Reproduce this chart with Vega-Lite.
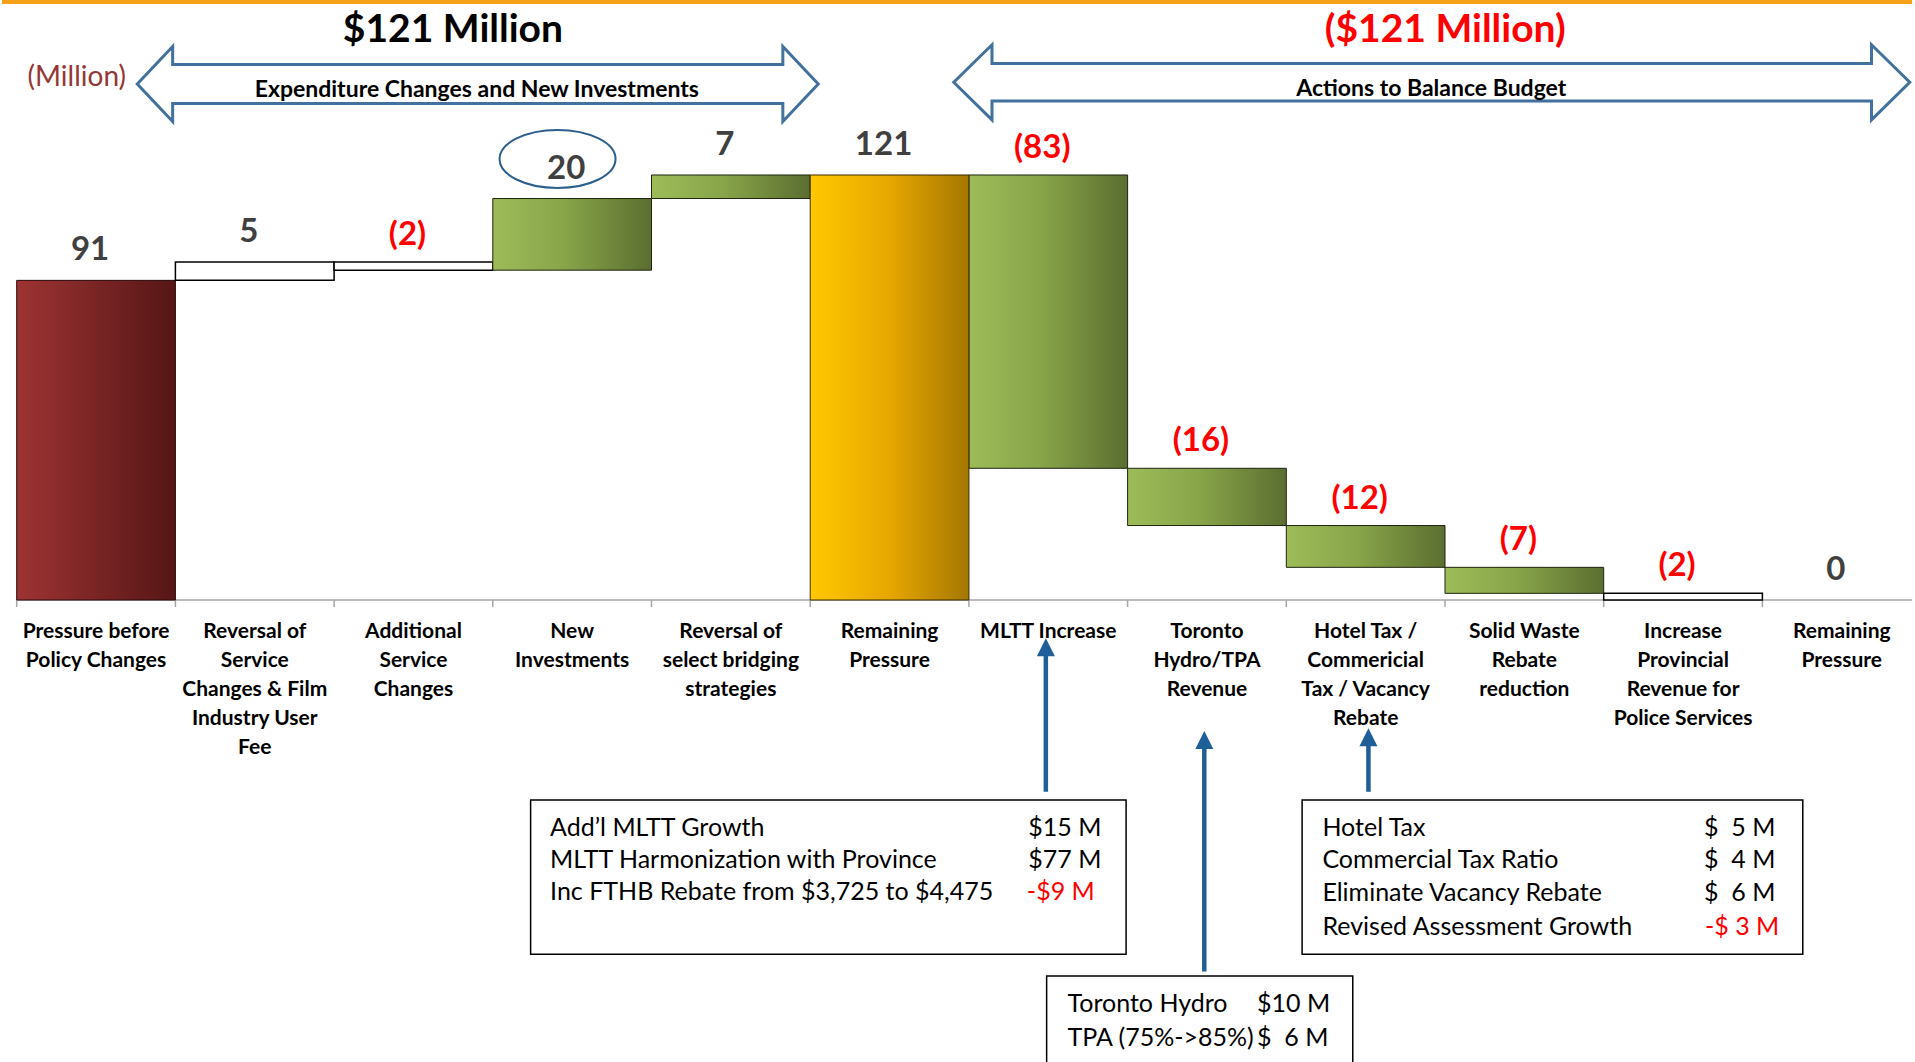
{
  "$schema": "https://vega.github.io/schema/vega-lite/v6.json",
  "width": 1915,
  "height": 1062,
  "autosize": {"type": "fit", "contains": "padding"},
  "padding": 0,
  "background": "white",
  "config": {"view": {"stroke": null}, "font": "Lato"},
  "datasets": {
    "steps": [
      {"cat": "Pressure before Policy Changes", "label": "Pressure before\nPolicy Changes", "start": 0, "end": 91, "type": "pressure", "dir": "up", "text": "91"},
      {"cat": "Reversal of Service Changes & Film Industry User Fee", "label": "Reversal of\nService\nChanges & Film\nIndustry User\nFee", "start": 91, "end": 96.2, "type": "adjustment", "dir": "up", "text": "5"},
      {"cat": "Additional Service Changes", "label": "Additional\nService\nChanges", "start": 96.2, "end": 93.9, "type": "adjustment", "dir": "down", "text": "(2)"},
      {"cat": "New Investments", "label": "New\nInvestments", "start": 93.9, "end": 114.3, "type": "investment", "dir": "up", "text": "20"},
      {"cat": "Reversal of select bridging strategies", "label": "Reversal of\nselect bridging\nstrategies", "start": 114.3, "end": 121, "type": "investment", "dir": "up", "text": "7"},
      {"cat": "Remaining Pressure", "label": "Remaining\nPressure", "start": 0, "end": 121, "type": "subtotal", "dir": "up", "text": "121"},
      {"cat": "MLTT Increase", "label": "MLTT Increase", "start": 121, "end": 37.5, "type": "action", "dir": "down", "text": "(83)"},
      {"cat": "Toronto Hydro/TPA Revenue", "label": "Toronto\nHydro/TPA\nRevenue", "start": 37.5, "end": 21.2, "type": "action", "dir": "down", "text": "(16)"},
      {"cat": "Hotel Tax / Commericial Tax / Vacancy Rebate", "label": "Hotel Tax /\nCommericial\nTax / Vacancy\nRebate", "start": 21.2, "end": 9.3, "type": "action", "dir": "down", "text": "(12)"},
      {"cat": "Solid Waste Rebate reduction", "label": "Solid Waste\nRebate\nreduction", "start": 9.3, "end": 1.9, "type": "action", "dir": "down", "text": "(7)"},
      {"cat": "Increase Provincial Revenue for Police Services", "label": "Increase\nProvincial\nRevenue for\nPolice Services", "start": 1.9, "end": 0, "type": "adjustment", "dir": "down", "text": "(2)"},
      {"cat": "Remaining Pressure after Actions", "label": "Remaining\nPressure", "start": 0, "end": 0, "type": "total", "dir": "total", "text": "0"}
    ]
  },
  "layer": [
    {
      "encoding": {
        "x": {"field": "u", "type": "quantitative", "axis": null, "scale": {"domain": [-0.0926, 11.974], "nice": false, "zero": false}},
        "x2": {"field": "u2"},
        "y": {"field": "v", "type": "quantitative", "axis": null, "scale": {"domain": [-131.53, 170.82], "nice": false, "zero": false}}
      },
      "layer": [
        {"data": {"values": [{"line": "top border", "u": -0.0926, "u2": 11.974, "v": 170.25}]}, "mark": {"type": "rule", "stroke": "#F7A11A", "strokeWidth": 4}},
        {"data": {"values": [{"line": "category axis", "u": 0, "u2": 11.974, "v": 0}]}, "mark": {"type": "rule", "stroke": "#A6A6A6", "strokeWidth": 1.5}}
      ]
    },
    {
      "data": {"name": "steps"},
      "encoding": {
        "x": {"field": "cat", "type": "nominal", "sort": null, "axis": null, "scale": {"type": "band", "domain": ["Pressure before Policy Changes", "Reversal of Service Changes & Film Industry User Fee", "Additional Service Changes", "New Investments", "Reversal of select bridging strategies", "Remaining Pressure", "MLTT Increase", "Toronto Hydro/TPA Revenue", "Hotel Tax / Commericial Tax / Vacancy Rebate", "Solid Waste Rebate reduction", "Increase Provincial Revenue for Police Services", "Remaining Pressure after Actions"], "paddingInner": 0, "paddingOuter": 0, "range": [14.7, 1919.1]}}
      },
      "layer": [
        {
          "mark": {"type": "rule", "stroke": "#A6A6A6", "strokeWidth": 1.5},
          "encoding": {
            "x": {"field": "cat", "type": "nominal", "sort": null, "axis": null, "bandPosition": 0},
            "y": {"datum": 0, "type": "quantitative", "axis": null, "scale": {"domain": [-131.53, 170.82], "nice": false, "zero": false}},
            "y2": {"datum": -2}
          }
        },
        {
          "transform": [{"filter": "datum.type === 'pressure'"}],
          "mark": {"type": "bar", "fill": {"gradient": "linear", "x1": 0, "y1": 0, "x2": 1, "y2": 0, "stops": [{"offset": 0, "color": "#9E3333"}, {"offset": 1, "color": "#561616"}]}, "stroke": "#2A0A0A", "strokeWidth": 1},
          "encoding": {
            "y": {"field": "start", "type": "quantitative", "axis": null, "scale": {"domain": [-131.53, 170.82], "nice": false, "zero": false}},
            "y2": {"field": "end"}
          }
        },
        {
          "transform": [{"filter": "datum.type === 'adjustment'"}],
          "mark": {"type": "bar", "fill": "white", "stroke": "#000000", "strokeWidth": 1.5},
          "encoding": {
            "y": {"field": "start", "type": "quantitative", "axis": null, "scale": {"domain": [-131.53, 170.82], "nice": false, "zero": false}},
            "y2": {"field": "end"}
          }
        },
        {
          "transform": [{"filter": "datum.type === 'investment' || datum.type === 'action'"}],
          "mark": {"type": "bar", "fill": {"gradient": "linear", "x1": 0, "y1": 0, "x2": 1, "y2": 0, "stops": [{"offset": 0, "color": "#9DBC58"}, {"offset": 0.45, "color": "#88A549"}, {"offset": 1, "color": "#5B6E30"}]}, "stroke": "#1E2410", "strokeWidth": 1},
          "encoding": {
            "y": {"field": "start", "type": "quantitative", "axis": null, "scale": {"domain": [-131.53, 170.82], "nice": false, "zero": false}},
            "y2": {"field": "end"}
          }
        },
        {
          "transform": [{"filter": "datum.type === 'subtotal'"}],
          "mark": {"type": "bar", "fill": {"gradient": "linear", "x1": 0, "y1": 0, "x2": 1, "y2": 0, "stops": [{"offset": 0, "color": "#FFC800"}, {"offset": 0.5, "color": "#E6A700"}, {"offset": 1, "color": "#A47700"}]}, "stroke": "#3A2A00", "strokeWidth": 1},
          "encoding": {
            "y": {"field": "start", "type": "quantitative", "axis": null, "scale": {"domain": [-131.53, 170.82], "nice": false, "zero": false}},
            "y2": {"field": "end"}
          }
        },
        {
          "transform": [{"filter": "datum.dir !== 'down'"}],
          "mark": {"type": "text", "fontSize": 33, "fontWeight": "bold", "fill": "#404040", "baseline": "middle", "dy": -30, "dx": -6},
          "encoding": {
            "y": {"field": "end", "type": "quantitative", "axis": null, "scale": {"domain": [-131.53, 170.82], "nice": false, "zero": false}},
            "text": {"field": "text"}
          }
        },
        {
          "transform": [{"filter": "datum.dir === 'down'"}],
          "mark": {"type": "text", "fontSize": 33, "fontWeight": "bold", "fill": "#FF0000", "baseline": "middle", "dy": -27, "dx": -6},
          "encoding": {
            "y": {"field": "start", "type": "quantitative", "axis": null, "scale": {"domain": [-131.53, 170.82], "nice": false, "zero": false}},
            "text": {"field": "text"}
          }
        },
        {
          "mark": {"type": "text", "fontSize": 21, "fontWeight": "bold", "fill": "#000000", "baseline": "top", "align": "center", "lineBreak": "\n", "lineHeight": 29},
          "encoding": {
            "y": {"datum": -5.9, "type": "quantitative", "axis": null, "scale": {"domain": [-131.53, 170.82], "nice": false, "zero": false}},
            "text": {"field": "label"}
          }
        }
      ]
    },
    {
      "encoding": {
        "x": {"field": "u", "type": "quantitative", "axis": null, "scale": {"domain": [-0.0926, 11.974], "nice": false, "zero": false}},
        "y": {"field": "v", "type": "quantitative", "axis": null, "scale": {"domain": [-131.53, 170.82], "nice": false, "zero": false}}
      },
      "layer": [
        {
          "data": {"values": [{"arrow": "Expenditure Changes and New Investments", "u": 2.913, "v": 146.91}]},
          "mark": {"type": "point", "shape": "M-1,0L-0.896,-0.110L-0.896,-0.0573L0.896,-0.0573L0.896,-0.110L1,0L0.896,0.110L0.896,0.0573L-0.896,0.0573L-0.896,0.110Z", "size": 463761, "filled": true, "fill": "white", "stroke": "#41719C", "strokeWidth": 3, "opacity": 1}
        },
        {
          "data": {"values": [{"arrow": "Actions to Balance Budget", "u": 8.94, "v": 147.39}]},
          "mark": {"type": "point", "shape": "M-1,0L-0.92,-0.0785L-0.92,-0.0391L0.92,-0.0391L0.92,-0.0785L1,0L0.92,0.0785L0.92,0.0391L-0.92,0.0391L-0.92,0.0785Z", "size": 913936, "filled": true, "fill": "white", "stroke": "#41719C", "strokeWidth": 3, "opacity": 1}
        },
        {
          "data": {"values": [{"mark": "New Investments highlight", "u": 3.417, "v": 125.56}]},
          "mark": {"type": "point", "shape": "M-1,0A1,0.5,0,1,0,1,0A1,0.5,0,1,0,-1,0Z", "size": 13456, "filled": false, "stroke": "#2B5F8E", "strokeWidth": 2, "opacity": 1}
        },
        {
          "data": {"values": [
            {"arrow": "MLTT", "u": 6.502, "v": -54.6, "v2": -13.5},
            {"arrow": "Toronto Hydro/TPA", "u": 7.503, "v": -105.8, "v2": -39.9},
            {"arrow": "Hotel Tax", "u": 8.54, "v": -54.6, "v2": -39.1}
          ]},
          "mark": {"type": "rule", "stroke": "#1F5F99", "strokeWidth": 4.5},
          "encoding": {"y2": {"field": "v2"}}
        },
        {
          "data": {"values": [
            {"arrow": "MLTT", "u": 6.502, "v": -13.47},
            {"arrow": "Toronto Hydro/TPA", "u": 7.503, "v": -39.86},
            {"arrow": "Hotel Tax", "u": 8.54, "v": -39.09}
          ]},
          "mark": {"type": "point", "shape": "M0,-1L1,1L-1,1Z", "size": 324, "filled": true, "fill": "#1F5F99", "strokeWidth": 0, "opacity": 1}
        },
        {
          "data": {"values": [
            {"box": "MLTT detail", "u": 3.247, "u2": 7.009, "v": -56.94, "v2": -100.87},
            {"box": "Hotel Tax detail", "u": 8.121, "u2": 11.284, "v": -56.94, "v2": -100.87}
          ]},
          "mark": {"type": "rect", "fill": "white", "stroke": "#000000", "strokeWidth": 1.5},
          "encoding": {"x2": {"field": "u2"}, "y2": {"field": "v2"}}
        },
        {
          "data": {"values": [{"box": "Toronto Hydro detail", "u": 6.507, "u2": 8.441, "v": -107.05, "v2": -135}]},
          "mark": {"type": "rect", "fill": "white", "stroke": "#000000", "strokeWidth": 1.5, "clip": true},
          "encoding": {"x2": {"field": "u2"}, "y2": {"field": "v2"}}
        },
        {
          "data": {"values": [
            {"t": "Add’l MLTT Growth", "u": 3.37, "v": -64.83},
            {"t": "MLTT Harmonization with Province", "u": 3.37, "v": -74.03},
            {"t": "Inc FTHB Rebate from $3,725 to $4,475", "u": 3.37, "v": -83.05},
            {"t": "$15 M", "u": 6.391, "v": -64.83},
            {"t": "$77 M", "u": 6.391, "v": -74.03},
            {"t": "Hotel Tax", "u": 8.249, "v": -64.83},
            {"t": "Commercial Tax Ratio", "u": 8.249, "v": -74.03},
            {"t": "Eliminate Vacancy Rebate", "u": 8.249, "v": -83.5},
            {"t": "Revised Assessment Growth", "u": 8.249, "v": -93.01},
            {"t": "$\u00a0\u00a05 M", "u": 10.66, "v": -64.83},
            {"t": "$\u00a0\u00a04 M", "u": 10.66, "v": -74.03},
            {"t": "$\u00a0\u00a06 M", "u": 10.66, "v": -83.5},
            {"t": "Toronto Hydro", "u": 6.639, "v": -115.11},
            {"t": "TPA (75%->85%)", "u": 6.639, "v": -124.62},
            {"t": "$10 M", "u": 7.836, "v": -115.11},
            {"t": "$\u00a0\u00a06 M", "u": 7.836, "v": -124.62}
          ]},
          "mark": {"type": "text", "fontSize": 25, "fill": "#000000", "align": "left", "baseline": "middle"},
          "encoding": {"text": {"field": "t"}}
        },
        {
          "data": {"values": [
            {"t": "-$9 M", "u": 6.382, "v": -83.05},
            {"t": "-$\u00a03 M", "u": 10.666, "v": -93.01}
          ]},
          "mark": {"type": "text", "fontSize": 25, "fill": "#FF0000", "align": "left", "baseline": "middle"},
          "encoding": {"text": {"field": "t"}}
        },
        {
          "data": {"values": [{"t": "$121 Million", "u": 2.756, "v": 162.4}]},
          "mark": {"type": "text", "fontSize": 39, "fontWeight": "bold", "fill": "#000000", "align": "center", "baseline": "middle"},
          "encoding": {"text": {"field": "t"}}
        },
        {
          "data": {"values": [{"t": "($121 Million)", "u": 9.025, "v": 162.4}]},
          "mark": {"type": "text", "fontSize": 39, "fontWeight": "bold", "fill": "#FF0000", "align": "center", "baseline": "middle"},
          "encoding": {"text": {"field": "t"}}
        },
        {
          "data": {"values": [{"t": "(Million)", "u": 0.38, "v": 148.62}]},
          "mark": {"type": "text", "fontSize": 28, "fill": "#953735", "align": "center", "baseline": "middle"},
          "encoding": {"text": {"field": "t"}}
        },
        {
          "data": {"values": [
            {"t": "Expenditure Changes and New Investments", "u": 2.907, "v": 145.2},
            {"t": "Actions to Balance Budget", "u": 8.937, "v": 145.48}
          ]},
          "mark": {"type": "text", "fontSize": 23, "fontWeight": "bold", "fill": "#000000", "align": "center", "baseline": "middle"},
          "encoding": {"text": {"field": "t"}}
        }
      ]
    }
  ],
  "resolve": {"scale": {"x": "independent"}}
}
